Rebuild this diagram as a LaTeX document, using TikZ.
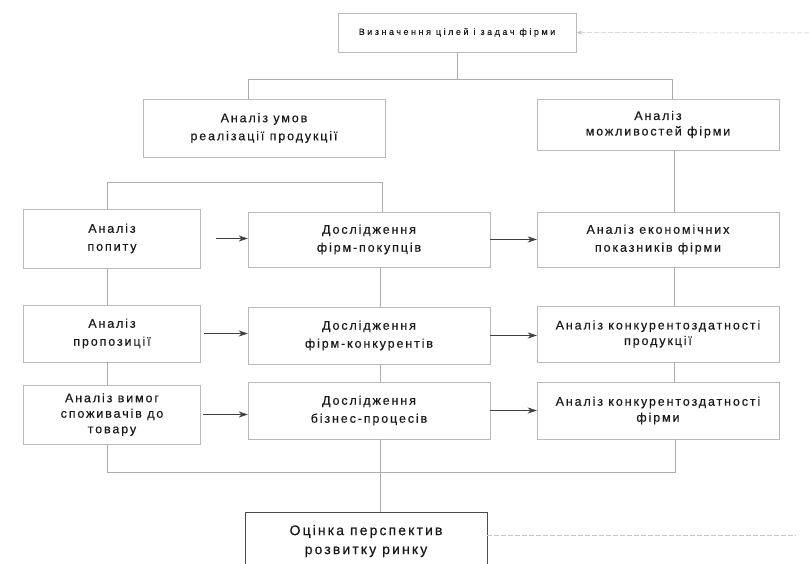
\documentclass[tikz,border=0pt]{standalone}
\usepackage{fontspec}
\setmainfont{Liberation Sans}[LetterSpace=15, FakeBold=0.4]
\newfontfamily\widefont{Liberation Sans}[LetterSpace=28, FakeBold=0.3]
\usetikzlibrary{arrows.meta}

\begin{document}
\begin{tikzpicture}[
			x=1pt, y=-1pt,
			block/.style={
				rectangle,
				draw=gray!55,
				text=black!90,
				align=center,
				minimum width=242pt,
				minimum height=57pt,
				inner sep=2pt,
				font=\fontsize{12.5}{18}\selectfont,
				line width=0.5pt
			},
			narrow/.style={
				block,
				minimum width=177pt
			},
			link/.style={
				draw=gray!65,
				line width=0.5pt
			},
			arrow/.style={
				link,
				draw=black!75,
				-{Stealth[length=9pt, width=6pt]}
			},
			feedback/.style={
				draw=gray!45,
				line width=0.5pt,
				dash pattern=on 5pt off 2pt
			}
			]
			
			\useasboundingbox (0,0) rectangle (809,564);
			
			% Level 1: goals of the firm
			\node[block, minimum width=238pt, minimum height=39pt, font=\widefont\fontsize{9}{10}\selectfont] (goal) at (457,32.5) {Визначення цілей і задач фірми};
			
			% Level 2: two directions of analysis
			\node[block, minimum height=58pt] (cond) at (264,128) {Аналіз умов\\реалізації продукції};
			\node[block, minimum height=51pt, font=\fontsize{12.5}{15.5}\selectfont] (abil) at (658,124.5) {Аналіз\\можливостей фірми};
			
			\draw[link] (goal.south) -- ++(0,27) -| ([xshift=-16pt]cond.north);
			\draw[link] (goal.south) -- ++(0,27) -| ([xshift=14pt]abil.north);
			
			% Row 1
			\node[narrow, minimum height=59pt] (demand) at (112,238.5) {Аналіз\\попиту};
			\node[block, minimum height=55pt] (buyers) at (369,239.5) {Дослідження\\фірм-покупців};
			\node[block, minimum height=55pt] (econ) at (658,239.5) {Аналіз економічних\\показників фірми};
			
			% Row 2
			\node[narrow] (supply) at (112,333.5) {Аналіз\\пропозиції};
			\node[block] (rivals) at (369,335.5) {Дослідження\\фірм-конкурентів};
			\node[block, minimum height=56pt, font=\fontsize{12.5}{15.5}\selectfont] (prodcomp) at (658,334) {Аналіз конкурентоздатності\\продукції};
			
			% Row 3
			\node[narrow, minimum height=59pt, font=\fontsize{12.5}{15.5}\selectfont] (needs) at (112,414.5) {Аналіз вимог\\споживачів до\\товару};
			\node[block] (process) at (369,410.5) {Дослідження\\бізнес-процесів};
			\node[block, font=\fontsize{12.5}{16}\selectfont] (firmcomp) at (658,410.5) {Аналіз конкурентоздатності\\фірми};
			
			% Result
			\node[block, draw=black!70, minimum height=58pt, font=\fontsize{14}{19}\selectfont] (outlook) at (366,541) {Оцінка перспектив\\розвитку ринку};
			
			% vertical links in the columns
			\draw[link] ([xshift=-5pt]demand.north) -- ++(0,-26) -| ([xshift=13pt]buyers.north);
			\draw[link] ([xshift=-5pt]demand.south) -- ([xshift=-5pt]supply.north);
			\draw[link] ([xshift=-5pt]supply.south) -- ([xshift=-5pt]needs.north);
			\draw[link] ([xshift=11pt]buyers.south) -- ([xshift=11pt]rivals.north);
			\draw[link] ([xshift=11pt]rivals.south) -- ([xshift=11pt]process.north);
			\draw[link] ([xshift=16pt]abil.south) -- ([xshift=16pt]econ.north);
			\draw[link] ([xshift=16pt]econ.south) -- ([xshift=16pt]prodcomp.north);
			\draw[link] ([xshift=16pt]prodcomp.south) -- ([xshift=16pt]firmcomp.north);
			
			% arrows between the columns
			\draw[arrow] ([xshift=15pt]demand.east) -- (buyers.west |- demand.east);
			\draw[arrow] ([xshift=3pt]supply.east) -- (rivals.west |- supply.east);
			\draw[arrow] ([xshift=2pt]needs.east) -- (process.west |- needs.east);
			\draw[arrow] (buyers.east) -- (econ.west |- buyers.east);
			\draw[arrow] (rivals.east) -- (prodcomp.west |- rivals.east);
			\draw[arrow] (process.east) -- (firmcomp.west |- process.east);
			
			% merging into the result
			\draw[link] ([xshift=-5pt]needs.south) -- ++(0,28) -| ([xshift=17pt]firmcomp.south);
			\draw[link] ([xshift=11pt]process.south) -- ([xshift=14pt]outlook.north);
			
			% feedback line
			\coordinate (fbtop) at (809,33);
			\coordinate (fblow) at (796,535);
			\draw[feedback, -{Stealth[length=6pt, width=4pt]}] (fbtop) -- (goal.east);
			\draw[feedback] (outlook.east |- fblow) -- (fblow);
			
		\end{tikzpicture}
\end{document}
